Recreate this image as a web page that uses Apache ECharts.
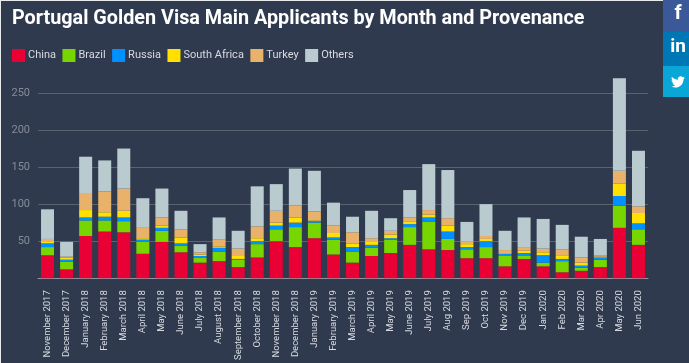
<!DOCTYPE html>
<html>
<head>
<meta charset="utf-8">
<script src="https://cdn.jsdelivr.net/npm/echarts@6/dist/echarts.min.js"></script>
<style>
html, body { margin: 0; padding: 0; background: #303a4e; }
#chart { width: 689px; height: 363px; }
</style>
</head>
<body>
<div id="chart"></div>
<script>
var months = ['November 2017', 'December 2017', 'January 2018', 'February 2018', 'March 2018', 'April 2018', 'May 2018', 'June 2018',
	'July 2018', 'August 2018', 'September 2018', 'October 2018', 'November 2018', 'December 2018', 'January 2019', 'February 2019',
	'March 2019', 'April 2019', 'May 2019', 'June 2019', 'July 2019', 'Aug 2019', 'Sep 2019', 'Oct 2019',
	'Nov 2019', 'Dec 2019', 'Jan 2020', 'Feb 2020', 'Mar 2020', 'Apr 2020', 'May 2020', 'Jun 2020'];

var china = [31, 12, 57, 63, 62, 33, 49, 35, 21, 23, 15, 28, 50, 42, 54, 32, 21, 30, 34, 45, 39, 38, 27, 27, 16, 26, 16, 8, 10, 15, 68, 45];
var brazil = [11, 10, 21, 15, 15, 16, 15, 9, 7, 13, 10, 18, 16, 27, 21, 20, 15, 11, 18, 24, 37, 15, 12, 15, 14, 4, 5, 15, 4, 10, 30, 21];
var russia = [5, 3, 4, 5, 5, 3, 4, 3, 2, 5, 1, 4, 5, 6, 2, 3, 6, 4, 2, 4, 6, 10, 3, 8, 3, 4, 10, 3, 3, 3, 13, 8];
var southAfrica = [3, 3, 10, 6, 9, 2, 3, 8, 2, 2, 4, 4, 4, 7, 1, 6, 5, 5, 5, 3, 4, 8, 4, 3, 1, 3, 4, 5, 4, 1, 17, 14];
var turkey = [3, 1, 23, 28, 30, 14, 11, 11, 3, 9, 10, 16, 16, 16, 12, 10, 15, 4, 5, 6, 6, 10, 4, 4, 4, 5, 5, 8, 7, 2, 17, 9];
var others = [40, 20, 49, 42, 54, 40, 39, 25, 11, 30, 24, 54, 36, 50, 55, 31, 21, 37, 17, 37, 62, 65, 26, 43, 26, 40, 40, 33, 28, 22, 125, 75];

var seriesNames = ['China', 'Brazil', 'Russia', 'South Africa', 'Turkey', 'Others'];
var seriesValues = [china, brazil, russia, southAfrica, turkey, others];
var seriesColors = ['#e90035', '#77d600', '#0090ff', '#ffe000', '#e8b26b', '#bacbd0'];
var yTicks = [50, 100, 150, 200, 250];

var twitterPath = 'M23.95 4.57a10 10 0 0 1-2.82.77 4.96 4.96 0 0 0 2.16-2.72c-.95.55-2 .96-3.12 1.19a4.92 4.92 0 0 0-8.38 4.48C7.69 8.1 4.07 6.13 1.64 3.16a4.82 4.82 0 0 0-.67 2.48c0 1.71.87 3.21 2.19 4.1a4.9 4.9 0 0 1-2.23-.61v.06c0 2.39 1.7 4.38 3.95 4.83a5 5 0 0 1-2.21.08 4.94 4.94 0 0 0 4.6 3.42A9.87 9.87 0 0 1 0 19.54a14 14 0 0 0 7.56 2.21c9.05 0 14-7.5 14-13.98 0-.21 0-.42-.02-.63a9.94 9.94 0 0 0 2.46-2.55z';

// the graphic component has no plain path type, so register the bird as a shape
echarts.graphic.registerShape('twitterBird', echarts.graphic.extendPath(twitterPath, {}));

var chart = echarts.init(document.getElementById('chart'));

var series = [];
for (var i = 0; i < seriesNames.length; i++) {
	series.push({
		name: seriesNames[i],
		type: 'bar',
		stack: 'total',
		barWidth: 13,
		clip: false,
		itemStyle: { color: seriesColors[i] },
		data: seriesValues[i]
	});
}

chart.setOption({
	backgroundColor: '#303a4e',
	animation: false,
	title: {
		text: 'Portugal Golden Visa Main Applicants by Month and Provenance',
		left: 7,
		top: 4,
		textStyle: { color: '#ffffff', fontFamily: 'Roboto', fontSize: 19.8, fontWeight: 'bold' }
	},
	legend: {
		left: 7,
		top: 44,
		itemWidth: 13,
		itemHeight: 13,
		itemGap: 6.5,
		icon: 'rect',
		selectedMode: false,
		textStyle: { color: '#d7dbe0', fontFamily: 'Roboto', fontSize: 11, padding: [0, 0, 0, -2] },
		data: seriesNames
	},
	grid: { left: 38, right: 41, top: 93, bottom: 83 },
	xAxis: {
		type: 'category',
		data: months,
		axisTick: { show: false },
		axisLine: { lineStyle: { color: '#8e949e', width: 1 } },
		axisLabel: { rotate: 90, interval: 0, color: '#d7dbe0', fontFamily: 'Roboto', fontSize: 9.5, margin: 12 }
	},
	yAxis: {
		type: 'value',
		min: 0,
		max: 250,
		interval: yTicks[0],
		axisLine: { show: false },
		axisTick: { show: false },
		axisLabel: {
			color: '#858c98',
			fontFamily: 'Roboto',
			fontSize: 11,
			margin: 8,
			showMinLabel: false
		},
		splitLine: { lineStyle: { color: '#5b6270', width: 1 } }
	},
	series: series,
	graphic: [
		{ type: 'rect', shape: { x: 0, y: 0, width: 689, height: 1 }, style: { fill: '#e8eaec' } },
		{ type: 'rect', shape: { x: 0, y: 0, width: 1, height: 363 }, style: { fill: '#e8eaec' } },
		{ type: 'rect', shape: { x: 663, y: 0, width: 26, height: 32 }, style: { fill: '#3b5998' } },
		{ type: 'rect', shape: { x: 663, y: 32, width: 26, height: 34 }, style: { fill: '#0077b5' } },
		{ type: 'rect', shape: { x: 663, y: 66, width: 26, height: 31 }, style: { fill: '#0aa6d6' } },
		{ type: 'text', x: 678, y: 14, style: { text: 'f', fill: '#fff', font: 'bold 20px Roboto', align: 'center', verticalAlign: 'middle' } },
		{ type: 'text', x: 678, y: 47, style: { text: 'in', fill: '#fff', font: 'bold 19px Roboto', align: 'center', verticalAlign: 'middle' } },
		{ type: 'twitterBird', x: 671, y: 75, scaleX: 0.58, scaleY: 0.58, style: { fill: '#fff' } }
	]
});
</script>
</body>
</html>
